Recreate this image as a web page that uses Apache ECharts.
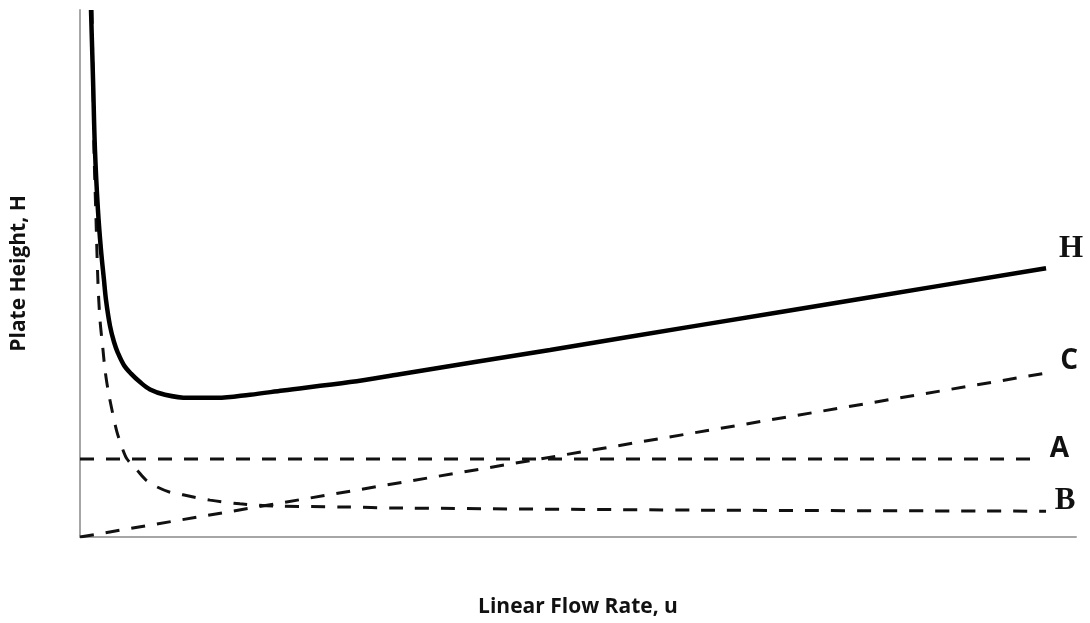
<!DOCTYPE html>
<html>
<head>
<meta charset="utf-8">
<script src="https://cdn.jsdelivr.net/npm/echarts@6/dist/echarts.min.js"></script>
<style>html,body{margin:0;padding:0;background:#fff;}#chart{width:1090px;height:623px;}</style>
</head>
<body>
<div id="chart"></div>
<script>
// (arbitrary units: x 0..100 at curve ends, y 0..100 at top of axis)
const hX = [1.14, 1.35, 1.55, 1.86, 2.17, 2.48, 2.69, 3.11, 3.52, 3.93, 4.55, 5.28, 6.21, 7.25, 8.8, 11.18, 14.18, 17.6, 21.0, 27.95, 33.1, 48.65, 64.2, 81.8, 100];
const hY = [100, 86.7, 73.4, 62.0, 54.5, 48.8, 45.0, 40.0, 37.0, 34.9, 32.6, 31.0, 29.4, 28.0, 27.0, 26.4, 26.4, 27.0, 27.8, 29.4, 30.9, 35.5, 40.2, 45.5, 51.0];
const bX = [1.24, 1.35, 1.45, 1.66, 1.86, 2.07, 2.38, 2.59, 2.9, 3.31, 3.83, 4.45, 4.87, 5.9, 6.83, 7.97, 9.32, 10.66, 13.46, 16.56, 19.98, 27.2, 33.1, 64.2, 100];
const bY = [100, 86.7, 73.4, 60.1, 48.2, 41.2, 35.5, 31.7, 27.9, 24.1, 19.9, 16.5, 14.8, 12.7, 10.8, 9.5, 8.5, 8.0, 7.0, 6.3, 5.9, 5.7, 5.5, 5.1, 4.9];
const aX = [0, 99];
const aY = [14.8, 14.8];
const cX = [0, 100];
const cY = [0, 31.1];
const xName = 'Linear Flow Rate, u';
const yName = 'Plate Height, H';

const pairs = (xs, ys) => xs.map((x, i) => [x, ys[i]]);
const dash = { type: [14, 12], width: 3, color: '#111', cap: 'butt' };
const serifLbl = { fontFamily: 'Liberation Serif', fontWeight: 'bold', fontSize: 31, color: '#111' };
const sansLbl = { fontFamily: 'Open Sans', fontWeight: 'bold', fontSize: 28, color: '#111' };
const titleStyle = { fontFamily: 'Open Sans', fontWeight: 'bold', fontSize: 21, color: '#111' };

const chart = echarts.init(document.getElementById('chart'));
chart.setOption({
  animation: false,
  backgroundColor: '#fff',
  grid: { left: 80, top: 10, right: 14, bottom: 86 },
  xAxis: {
    type: 'value', min: 0, max: 103.1,
    name: xName, nameLocation: 'middle', nameGap: 60,
    nameTextStyle: titleStyle,
    axisLine: { show: true, lineStyle: { color: '#a6a6a6', width: 2 } },
    axisTick: { show: false }, axisLabel: { show: false }, splitLine: { show: false }
  },
  yAxis: {
    type: 'value', min: 0, max: 100,
    name: yName, nameLocation: 'middle', nameGap: 50, nameRotate: 90,
    nameTextStyle: titleStyle,
    axisLine: { show: true, lineStyle: { color: '#a6a6a6', width: 2 } },
    axisTick: { show: false }, axisLabel: { show: false }, splitLine: { show: false }
  },
  series: [
    { name: 'A', type: 'line', data: pairs(aX, aY), showSymbol: false, lineStyle: dash,
      endLabel: { show: true, formatter: '{a}', distance: 0, align: 'center', verticalAlign: 'middle', offset: [23, -10], ...sansLbl } },
    { name: 'C', type: 'line', data: pairs(cX, cY), showSymbol: false, lineStyle: dash,
      endLabel: { show: true, formatter: '{a}', distance: 0, align: 'center', verticalAlign: 'middle', offset: [23, -12], ...sansLbl } },
    { name: 'B', type: 'line', data: pairs(bX, bY), showSymbol: false, smooth: 0.3, lineStyle: dash,
      endLabel: { show: true, formatter: '{a}', distance: 0, align: 'center', verticalAlign: 'middle', offset: [19, -10], ...serifLbl } },
    { name: 'H', type: 'line', data: pairs(hX, hY), showSymbol: false, smooth: 0.35,
      lineStyle: { width: 4.5, color: '#000' },
      endLabel: { show: true, formatter: '{a}', distance: 0, align: 'center', verticalAlign: 'middle', offset: [25, -19], ...serifLbl } }
  ]
});
</script>
</body>
</html>
